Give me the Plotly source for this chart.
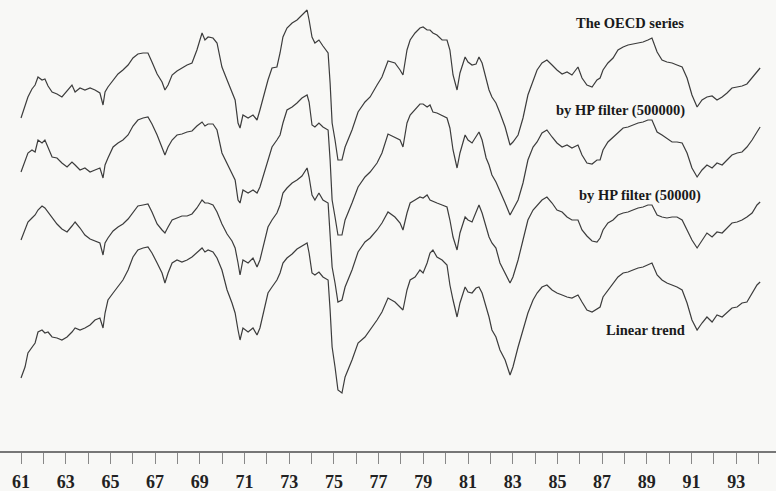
import plotly.graph_objects as go

# Time axis (decimal years, 1961 = 61)
years = [
    61.00, 61.18, 61.31, 61.49, 61.63, 61.76, 61.94, 62.07, 62.21, 62.39,
    62.61, 62.83, 63.06, 63.28, 63.42, 63.64, 63.86, 64.09, 64.31, 64.53,
    64.67, 64.76, 64.89, 65.12, 65.34, 65.56, 65.79, 66.01, 66.23, 66.46,
    66.68, 66.86, 67.09, 67.31, 67.44, 67.58, 67.76, 67.98, 68.20, 68.43,
    68.65, 68.87, 69.10, 69.23, 69.37, 69.59, 69.77, 69.99, 70.22, 70.44,
    70.58, 70.71, 70.80, 70.93, 71.16, 71.38, 71.56, 71.69, 71.92, 72.05,
    72.23, 72.45, 72.59, 72.72, 72.90, 73.13, 73.35, 73.57, 73.80, 73.89,
    74.02, 74.15, 74.33, 74.51, 74.74, 74.83, 74.92, 75.05, 75.18, 75.36,
    75.50, 75.81, 76.08, 76.39, 76.62, 76.93, 77.15, 77.42, 77.73, 77.96,
    78.09, 78.27, 78.41, 78.63, 78.85, 78.99, 79.17, 79.30, 79.43, 79.61,
    79.84, 80.06, 80.19, 80.33, 80.51, 80.64, 80.87, 81.00, 81.18, 81.36,
    81.49, 81.63, 81.81, 81.94, 82.07, 82.25, 82.43, 82.66, 82.88, 83.01,
    83.24, 83.46, 83.68, 83.91, 84.09, 84.31, 84.53, 84.76, 84.98, 85.21,
    85.43, 85.65, 85.92, 86.10, 86.32, 86.55, 86.77, 86.91, 87.04, 87.26,
    87.49, 87.71, 87.94, 88.16, 88.38, 88.61, 88.83, 89.05, 89.23, 89.46,
    89.68, 89.90, 90.13, 90.35, 90.58, 90.80, 91.02, 91.25, 91.47, 91.69,
    91.92, 92.14, 92.37, 92.59, 92.81, 93.04, 93.26, 93.48, 93.71, 93.93,
    94.07,
]

# Series as displayed (arbitrary index units, stacked)
oecd = [
    282, 295, 303, 311, 315, 323, 320, 321, 314, 308,
    306, 303, 309, 315, 308, 312, 310, 312, 310, 307,
    295, 308, 313, 320, 326, 330, 335, 342, 346, 347,
    347, 338, 326, 318, 310, 315, 325, 329, 332, 335,
    337, 350, 367, 360, 363, 362, 357, 333, 320, 307,
    300, 277, 272, 285, 282, 285, 280, 290, 310, 320,
    332, 333, 347, 363, 372, 377, 380, 385, 390, 380,
    363, 357, 360, 354, 347, 317, 277, 260, 240, 240,
    253, 270, 288, 298, 303, 315, 323, 339, 337, 330,
    325, 350, 360, 367, 372, 373, 370, 370, 367, 365,
    360, 360, 350, 325, 310, 327, 343, 338, 335, 336,
    343, 337, 320, 310, 303, 297, 287, 273, 255, 258,
    265, 282, 305, 318, 330, 337, 340, 335, 330, 326,
    328, 325, 333, 322, 315, 313, 320, 322, 330, 337,
    342, 350, 353, 355, 356, 357, 358, 360, 362, 348,
    340, 338, 337, 335, 333, 322, 305, 293, 300, 303,
    304, 300, 303, 307, 312, 313, 314, 316, 322, 328,
    332,
]

hp500000 = [
    228, 240, 247, 250, 248, 260, 257, 260, 253, 243,
    242, 237, 233, 238, 235, 230, 232, 228, 230, 232,
    222, 235, 242, 253, 257, 260, 265, 274, 280, 282,
    283, 276, 265, 253, 245, 253, 260, 265, 266, 268,
    269, 274, 278, 274, 276, 276, 270, 247, 237, 227,
    220, 200, 197, 210, 207, 210, 207, 213, 230, 240,
    253, 260, 265, 277, 290, 293, 297, 302, 305, 298,
    275, 273, 277, 273, 270, 240, 200, 183, 165, 165,
    180, 197, 213, 223, 228, 237, 247, 266, 263, 260,
    253, 277, 285, 290, 296, 296, 293, 295, 288, 287,
    284, 282, 272, 250, 232, 247, 265, 260, 257, 264,
    268, 260, 242, 235, 225, 218, 208, 197, 185, 190,
    200, 217, 240, 253, 258, 267, 270, 263, 257, 253,
    255, 252, 255, 245, 237, 236, 240, 240, 250, 258,
    263, 268, 272, 273, 275, 277, 278, 280, 280, 268,
    265, 262, 258, 258, 257, 247, 232, 223, 230, 235,
    232, 237, 235, 240, 245, 247, 248, 253, 260, 268,
    273,
]

hp50000 = [
    160, 170, 178, 182, 185, 190, 194, 192, 188, 182,
    176, 171, 168, 174, 178, 172, 165, 161, 159, 157,
    145, 157, 162, 169, 173, 176, 181, 188, 194, 195,
    196, 188, 176, 170, 167, 173, 180, 182, 184, 184,
    186, 192, 200, 197, 197, 195, 188, 176, 166, 159,
    152, 137, 125, 140, 137, 142, 133, 140, 160, 173,
    180, 187, 195, 207, 212, 217, 220, 224, 232, 223,
    205, 200, 207, 200, 197, 167, 133, 117, 98, 100,
    113, 130, 148, 158, 162, 170, 177, 188, 183, 177,
    170, 187, 197, 200, 203, 202, 205, 200, 199, 197,
    195, 193, 180, 163, 150, 167, 183, 180, 178, 187,
    195, 187, 173, 163, 157, 152, 137, 127, 117, 123,
    140, 160, 180, 190, 195, 200, 203, 197, 190, 188,
    183, 180, 180, 170, 164, 159, 158, 162, 170, 177,
    180, 185, 187, 188, 190, 192, 193, 195, 195, 185,
    183, 182, 183, 183, 180, 170, 160, 152, 160, 167,
    163, 168, 167, 172, 177, 178, 180, 183, 187, 195,
    198,
]

linear = [
    22, 33, 47, 53, 57, 68, 70, 67, 68, 63,
    62, 60, 63, 68, 72, 70, 72, 75, 80, 82,
    72, 87, 100, 107, 113, 120, 130, 143, 150, 152,
    153, 147, 137, 127, 117, 127, 137, 140, 138, 140,
    143, 147, 152, 148, 150, 148, 142, 130, 110, 97,
    87, 70, 60, 72, 68, 72, 65, 72, 93, 107,
    113, 120, 127, 137, 142, 146, 151, 154, 157, 147,
    127, 125, 128, 123, 120, 90, 53, 33, 10, 7,
    23, 40, 57, 63, 70, 80, 88, 102, 98, 93,
    90, 110, 120, 123, 130, 127, 137, 147, 150, 143,
    140, 135, 115, 100, 83, 97, 113, 108, 107, 112,
    113, 107, 93, 83, 70, 63, 50, 40, 25, 33,
    53, 70, 87, 100, 107, 113, 115, 110, 107, 105,
    103, 102, 105, 98, 90, 88, 91, 93, 103, 110,
    117, 123, 127, 128, 130, 132, 133, 135, 137, 125,
    120, 117, 115, 113, 110, 97, 80, 70, 77, 83,
    78, 85, 83, 88, 92, 93, 97, 98, 107, 115,
    118,
]

series_names = ["The OECD series", "by HP filter (500000)",
                "by HP filter (50000)", "Linear trend"]
series_values = [oecd, hp500000, hp50000, linear]
label_years = [88.25, 87.80, 88.70, 88.92]
label_levels = [377, 290, 205, 70]

tick_years = list(range(61, 95))
tick_text = [str(y) if y % 2 == 1 else "" for y in tick_years]

LINE = "#3c3c3c"
SERIF = "Liberation Serif"

fig = go.Figure()
for name, vals in zip(series_names, series_values):
    fig.add_trace(go.Scatter(x=years, y=vals, mode="lines", name=name,
                             line=dict(color=LINE, width=1.2),
                             showlegend=False))

for name, lx, ly in zip(series_names, label_years, label_levels):
    fig.add_annotation(x=lx, y=ly, text=name, showarrow=False,
                       xanchor="center", yanchor="middle",
                       font=dict(family=SERIF, size=14.5, color="#1a1a1a",
                                 weight="bold"))

fig.update_layout(
    width=776, height=491,
    margin=dict(l=0, r=0, t=0, b=40),
    paper_bgcolor="#f8f8f6", plot_bgcolor="#f8f8f6",
    xaxis=dict(range=[60.06, 94.78], tickvals=tick_years, ticktext=tick_text,
               ticks="outside", ticklen=11, tickwidth=1, tickcolor="#888",
               showline=True, linecolor="#777", linewidth=1.5,
               showgrid=False, zeroline=False, automargin=False,
               ticklabelstandoff=3,
               tickfont=dict(family=SERIF, size=18, color="#222",
                             weight="bold")),
    yaxis=dict(range=[-51, 400], visible=False, showgrid=False,
               zeroline=False, automargin=False),
)

fig.write_html("out.html", config={"displayModeBar": False},
               post_script="document.body.style.margin='0px';"
                           "document.body.style.background='#f8f8f6';")
